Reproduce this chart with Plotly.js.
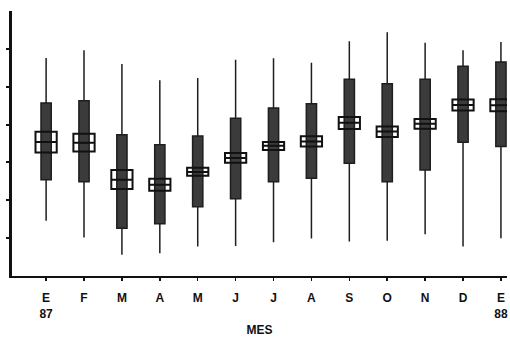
<!DOCTYPE html>
<html>
<head>
<meta charset="utf-8">
<script src="https://cdn.plot.ly/plotly-3.0.1.min.js"></script>
<style>html,body{margin:0;padding:0;background:#fff;}#chart{width:510px;height:337px;}</style>
</head>
<body>
<div id="chart"></div>
<script>
// Months (tick labels)
var months = ["E<br>87", "F", "M", "A", "M", "J", "J", "A", "S", "O", "N", "D", "E<br>88"];
// Statistics
var maxV    = [5.76, 5.96, 5.60, 5.17, 5.23, 5.71, 5.75, 5.63, 6.20, 6.44, 6.16, 5.96, 6.18];
var q3V     = [4.57, 4.63, 3.73, 3.47, 3.70, 4.17, 4.44, 4.55, 5.20, 5.08, 5.20, 5.54, 5.65];
var medianV = [3.54, 3.52, 2.54, 2.41, 2.75, 3.12, 3.44, 3.55, 4.05, 3.82, 4.02, 4.52, 4.51];
var q1V     = [2.54, 2.49, 1.26, 1.38, 1.83, 2.04, 2.49, 2.58, 2.98, 2.49, 2.80, 3.53, 3.42];
var minV    = [1.46, 1.02, 0.56, 0.60, 0.78, 0.79, 0.89, 0.99, 0.91, 0.93, 1.10, 0.78, 1.00];
var notchHi = [3.81, 3.76, 2.80, 2.57, 2.86, 3.25, 3.54, 3.69, 4.20, 3.95, 4.15, 4.66, 4.67];
var notchLo = [3.26, 3.29, 2.30, 2.25, 2.65, 2.99, 3.33, 3.42, 3.88, 3.67, 3.89, 4.37, 4.35];

var xs = months.map(function (_, i) { return i; });

var boxTrace = {
  type: "box",
  x: xs,
  q1: q1V,
  median: medianV,
  q3: q3V,
  lowerfence: minV,
  upperfence: maxV,
  width: 0.27,
  whiskerwidth: 0,
  fillcolor: "#3b3b3b",
  line: { color: "#1e1e1e", width: 1.5 },
  boxpoints: false,
  hoverinfo: "skip",
  showlegend: false
};

var notchTrace = {
  type: "box",
  x: xs,
  q1: notchLo,
  median: medianV,
  q3: notchHi,
  lowerfence: notchLo,
  upperfence: notchHi,
  width: 0.56,
  whiskerwidth: 0,
  fillcolor: "rgba(0,0,0,0)",
  line: { color: "#111", width: 2 },
  boxpoints: false,
  hoverinfo: "skip",
  showlegend: false
};

var layout = {
  width: 510,
  height: 337,
  margin: { l: 12, r: 3, t: 11, b: 61 },
  paper_bgcolor: "#fff",
  plot_bgcolor: "#fff",
  boxmode: "overlay",
  showlegend: false,
  font: { family: "Liberation Sans, Arial, sans-serif", color: "#111" },
  xaxis: {
    range: [-0.9, 12.16],
    tickmode: "array",
    tickvals: xs,
    ticktext: months.map(function (m) { return "<b>" + m + "</b>"; }),
    tickfont: { size: 12, color: "#111" },
    ticks: "outside",
    ticklen: 3,
    tickwidth: 1.5,
    tickcolor: "#111",
    ticklabelstandoff: 7,
    showline: true,
    linecolor: "#111",
    linewidth: 2,
    showgrid: false,
    zeroline: false,
    title: { text: "<b>MES</b>", font: { size: 12, color: "#111" }, standoff: 7 }
  },
  yaxis: {
    range: [0, 7],
    tickmode: "array",
    tickvals: [1, 2, 3, 4, 5, 6],
    showticklabels: false,
    ticks: "outside",
    ticklen: 3,
    tickwidth: 2,
    tickcolor: "#111",
    showline: true,
    linecolor: "#111",
    linewidth: 3,
    showgrid: false,
    zeroline: false
  }
};

Plotly.newPlot("chart", [boxTrace, notchTrace], layout, { displayModeBar: false, staticPlot: true });
</script>
</body>
</html>
